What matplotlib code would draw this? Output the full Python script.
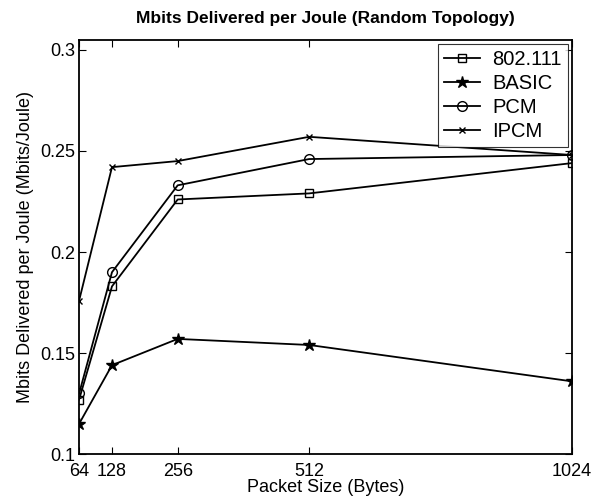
import matplotlib
matplotlib.use("Agg")
import matplotlib.pyplot as plt

plt.rcParams['font.family'] = ['Liberation Sans', 'DejaVu Sans']

packet_sizes = [64, 128, 256, 512, 1024]
ieee80211 = [0.127, 0.183, 0.226, 0.229, 0.244]
basic = [0.115, 0.144, 0.157, 0.154, 0.136]
pcm = [0.130, 0.190, 0.233, 0.246, 0.248]
ipcm = [0.176, 0.242, 0.245, 0.257, 0.248]

fig = plt.figure(figsize=(6.04, 5.04), dpi=100)
ax = fig.add_axes([0.131, 0.099, 0.816, 0.822])

ax.plot(packet_sizes, ieee80211, 'k-s', mfc='none', ms=6, lw=1.3, label="802.111")
ax.plot(packet_sizes, basic, 'k-*', ms=9, lw=1.3, label="BASIC")
ax.plot(packet_sizes, pcm, 'k-o', mfc='none', ms=7, lw=1.3, label="PCM")
ax.plot(packet_sizes, ipcm, 'k-x', ms=5, lw=1.3, label="IPCM")

ax.set_xlim(64, 1024)
ax.set_ylim(0.1, 0.305)
ax.set_xticks(packet_sizes)
ax.set_yticks([0.1, 0.15, 0.2, 0.25, 0.3])
ax.set_yticklabels(["0.1", "0.15", "0.2", "0.25", "0.3"])
ax.tick_params(direction='in', top=True, right=True, labelsize=13, length=5)
ax.tick_params(axis='x', pad=6.5)
ax.tick_params(axis='y', pad=3)
for s in ax.spines.values():
    s.set_linewidth(1.3)

ax.set_xlabel("Packet Size (Bytes)", fontsize=13, labelpad=-1)
ax.set_ylabel("Mbits Delivered per Joule (Mbits/Joule)", fontsize=13, labelpad=4)
ax.set_title("Mbits Delivered per Joule (Random Topology)", fontsize=12.5,
             fontweight='semibold', pad=12)

leg = ax.legend(loc="upper right", fontsize=14.5, fancybox=False, edgecolor='k',
                handlelength=1.8, handletextpad=0.6, borderaxespad=0.2,
                labelspacing=0.25, borderpad=0.3)
leg.get_frame().set_linewidth(0.8)

fig.savefig("out.png", dpi=100)
